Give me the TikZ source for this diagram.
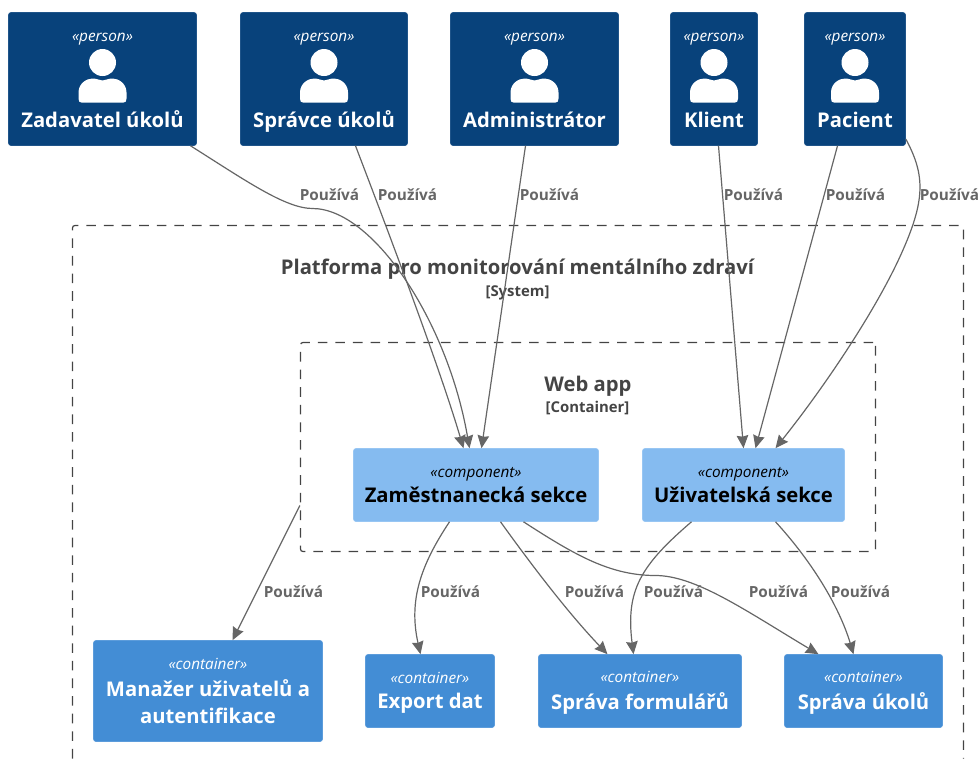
\documentclass[tikz,border=0pt]{standalone}
\usepackage{fontspec}
\setmainfont{Open Sans}
\usetikzlibrary{arrows.meta}

\definecolor{personblue}{HTML}{08427B}
\definecolor{personline}{HTML}{1F5489}
\definecolor{compblue}{HTML}{85BBF0}
\definecolor{compline}{HTML}{98C6F3}
\definecolor{contblue}{HTML}{438DD5}
\definecolor{contline}{HTML}{5C9CDB}
\definecolor{edgegray}{HTML}{666666}
\definecolor{frameline}{HTML}{444444}

\tikzset{
  personbox/.style={draw=personline, fill=personblue, rounded corners=0.06cm, inner sep=0pt},
  compbox/.style={draw=compline, fill=compblue, rounded corners=0.06cm, inner sep=0pt, align=center, text=black},
  contbox/.style={draw=contline, fill=contblue, rounded corners=0.06cm, inner sep=0pt, align=center, text=white},
  stereo/.style={font=\fontsize{10.9}{12}\selectfont\itshape, inner sep=0pt, anchor=base},
  titletxt/.style={font=\fontsize{14.4}{17}\selectfont\bfseries, inner sep=0pt, anchor=base},
  subtxt/.style={font=\fontsize{10.6}{12}\selectfont\bfseries, text=frameline, inner sep=0pt, anchor=base},
  usetxt/.style={font=\fontsize{10.9}{12}\selectfont\bfseries, text=edgegray, inner sep=0pt, anchor=base},
  uses/.style={draw=edgegray, line width=0.03cm, -{Stealth[length=0.32cm, width=0.29cm, inset=0.03cm]}},
  frame/.style={draw=frameline, line width=0.03cm, dash pattern=on 0.24cm off 0.2cm, rounded corners=0.06cm}
}

\newcommand{\namefont}{\fontsize{14.4}{19.5}\selectfont\upshape\bfseries}
\newcommand{\boxtext}[2]{\fontsize{10.9}{14}\selectfont\itshape «#1\vphantom{p}»\\[0.13cm]\namefont #2}
\newcommand{\lowstrut}{\rule{0pt}{0.37cm}}

\begin{document}
\begin{tikzpicture}[x=0.025cm, y=-0.025cm]
  \useasboundingbox (-0.5,-0.5) rectangle (978.5,757.5);

  % system frame runs off the bottom
  \coordinate (sysbl) at (72,758);
  \coordinate (systl) at (72,225);
  \coordinate (systr) at (963,225);
  \coordinate (sysbr) at (963,758);
  \draw[frame] (sysbl) -- (systl) -- (systr) -- (sysbr);
  \node[titletxt, text=frameline] (systitle) at (517,274) {Platforma pro monitorování mentálního zdraví};
  \node[subtxt] (syssub) at (517,296) {[System]};

  \node[frame, minimum width=575*0.025cm, minimum height=209*0.025cm, inner sep=0pt] (web) at (587.5,446.5) {};
  \node[titletxt, text=frameline] (webtitle) at (587.5,391) {Web app};
  \node[subtxt] (websub) at (587,412) {[Container]};

  % persons
  \foreach \name/\x/\w/\txt in {zadavatel/102/188/Zadavatel úkolů, spravce/323.5/167/Správce úkolů, admin/534/168/Administrátor, klient/713.5/87/Klient, pacient/854.5/101/Pacient}
  {
    \node[personbox, minimum width=\w*0.025cm, minimum height=133*0.025cm] (\name) at (\x,78.5) {};
    \node[stereo, text=white] (\name-st) at (\x,41) {«person»};
    \node[titletxt, text=white] (\name-txt) at (\x,127) {\txt};
    \begin{scope}[shift={(\x,0)}]
      \fill[white] (0,62) circle (13.5);
      \fill[white] (-24,92) .. controls (-24,83) and (-16,78) .. (-10,78) .. controls (-5,78) and (-3,80) .. (0,80) .. controls (3,80) and (5,78) .. (10,78) .. controls (16,78) and (24,83) .. (24,92) -- (24,98) .. controls (24,101) and (23,102) .. (21,102) -- (-21,102) .. controls (-23,102) and (-24,101) .. (-24,98) -- cycle;
    \end{scope}
  }

  % components
  \node[compbox, minimum width=245*0.025cm, minimum height=73*0.025cm] (zamest) at (475.5,484.5) {\boxtext{component}{Zaměstnanecká sekce}};
  \node[compbox, minimum width=202*0.025cm, minimum height=73*0.025cm] (uzivat) at (743,484.5) {\boxtext{component}{Uživatelská sekce}};

  % containers
  \node[contbox, minimum width=229*0.025cm, minimum height=101*0.025cm] (manazer) at (207.5,690.5) {\boxtext{container}{Manažer uživatelů a\\[0.25cm]\namefont autentifikace}};
  \node[contbox, minimum width=129*0.025cm, minimum height=73*0.025cm] (export) at (429.5,690.5) {\boxtext{container\lowstrut}{Export dat}};
  \node[contbox, minimum width=203*0.025cm, minimum height=73*0.025cm] (formulare) at (639.5,690.5) {\boxtext{container\lowstrut}{Správa formulářů}};
  \node[contbox, minimum width=158*0.025cm, minimum height=73*0.025cm] (ukoly) at (863,690.5) {\boxtext{container\lowstrut}{Správa úkolů}};

  % straight connectors
  \foreach \source/\dest/\xa/\xb in {admin/zamest/-9/5.5, klient/uzivat/4.5/0, pacient/uzivat/-17.5/12}
    \draw[uses] ([xshift=\xa*0.025cm]\source.south) -- ([xshift=\xb*0.025cm]\dest.north);
  \draw[uses] ([yshift=-58.5*0.025cm]web.west) -- ([xshift=24.5*0.025cm]manazer.north);

  % curved connectors
  \draw[uses] ([xshift=88*0.025cm]zadavatel.south) .. controls (245,180) and (285,208) .. (312,208) .. controls (372,208) and (447,320) .. ([xshift=-6.5*0.025cm]zamest.north);
  \draw[uses] ([xshift=31.5*0.025cm]spravce.south) .. controls (395,250) and (440,370) .. ([xshift=-12.5*0.025cm]zamest.north);
  \draw[uses] ([yshift=-60*0.025cm]pacient.east) .. controls (925,175) and (925,200) .. (900,255) .. controls (875,310) and (825,385) .. ([xshift=32*0.025cm]uzivat.north);
  \draw[uses] ([xshift=-26.5*0.025cm]zamest.south) .. controls (420,565) and (408,600) .. ([xshift=-9.5*0.025cm]export.north);
  \draw[uses] ([xshift=24.5*0.025cm]zamest.south) .. controls (535,570) and (570,615) .. ([xshift=-32.5*0.025cm]formulare.north);
  \draw[uses] ([xshift=47.5*0.025cm]zamest.south) .. controls (575,555) and (610,575) .. (655,575) .. controls (695,575) and (745,610) .. ([xshift=-45*0.025cm]ukoly.north);
  \draw[uses] ([xshift=-52*0.025cm]uzivat.south) .. controls (640,565) and (625,590) .. ([xshift=-6.5*0.025cm]formulare.north);
  \draw[uses] ([xshift=32*0.025cm]uzivat.south) .. controls (815,565) and (840,610) .. ([xshift=-10*0.025cm]ukoly.north);

  % labels
  \foreach \i/\x/\y in {1/329/200, 2/407/200, 3/549/200, 4/753/200, 5/855/200, 6/949/200, 7/293/597, 8/450/597, 9/594/597, 10/673/597, 11/778/597, 12/860/597}
    \node[usetxt] (use\i) at (\x,\y) {Používá};
\end{tikzpicture}
\end{document}
